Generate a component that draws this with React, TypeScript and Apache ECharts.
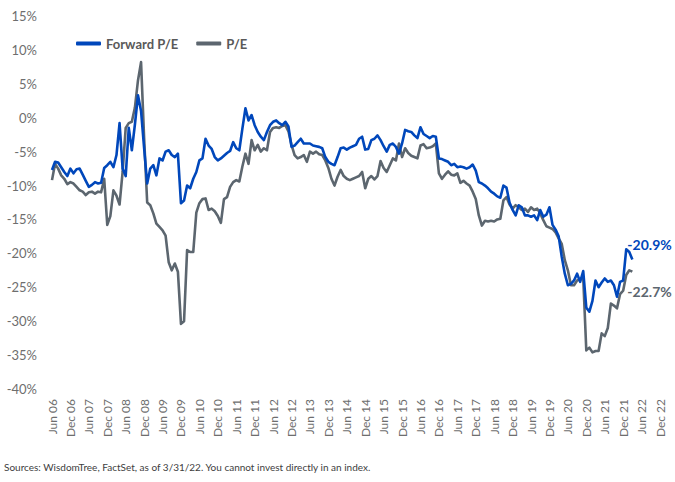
import React, { useEffect, useRef } from "react";
import * as echarts from "echarts";

// Monthly axis: Jun 06 through Dec 22
const monthNames = ["Jan", "Feb", "Mar", "Apr", "May", "Jun", "Jul", "Aug", "Sep", "Oct", "Nov", "Dec"];
const axisStart = { year: 2006, month: 5 };
const axisMonths = 199;
const categories: string[] = [];
for (let i = 0; i < axisMonths; i++) {
  const t = axisStart.month + i;
  const y = axisStart.year + Math.floor(t / 12);
  categories.push(`${monthNames[t % 12]} ${String(y % 100).padStart(2, "0")}`);
}

// Relative valuation, % (Jun 06 – Mar 22)
const forwardPE = [
  -7.7, -6.5, -6.6, -7.3, -8.0, -8.6, -7.5, -8.2, -7.6, -7.5, -8.4, -9.3,
  -10.2, -9.9, -9.5, -9.7, -9.6, -7.4, -7.0, -6.5, -7.3, -5.5, -0.8, -7.5,
  -8.6, -1.5, -4.8, -1.0, 3.3, 1.0, -4.5, -9.7, -7.5, -7.0, -8.5, -6.0,
  -6.3, -5.0, -4.8, -5.5, -5.8, -5.3, -12.6, -12.2, -10.0, -10.4, -9.0, -8.0,
  -6.3, -6.0, -3.1, -4.1, -4.6, -5.8, -6.3, -6.0, -5.6, -5.2, -4.9, -3.6,
  -4.5, -4.8, -1.6, 1.4, -0.4, 0.4, -1.1, -2.1, -2.8, -3.3, -2.1, -1.1,
  -0.6, -0.4, -0.8, -1.1, -0.6, -1.3, -4.3, -4.1, -3.6, -3.1, -3.8, -3.8,
  -3.8, -4.1, -4.2, -4.3, -4.5, -5.8, -6.5, -6.8, -7.0, -5.8, -4.5, -4.4,
  -4.7, -4.4, -4.2, -4.0, -3.1, -2.8, -4.7, -4.6, -3.3, -3.1, -2.6, -3.3,
  -4.2, -5.0, -4.0, -3.8, -4.3, -5.3, -3.8, -1.8, -2.0, -2.1, -2.6, -3.0,
  -1.4, -2.4, -2.7, -3.0, -2.7, -2.8, -6.0, -6.1, -6.3, -6.5, -7.0, -6.8,
  -7.3, -7.2, -7.3, -7.5, -7.3, -6.9, -7.8, -9.5, -9.7, -10.0, -10.4, -10.9,
  -11.2, -11.6, -11.8, -10.0, -10.3, -12.5, -13.6, -14.4, -12.9, -13.2, -14.4, -14.4,
  -14.6, -14.4, -15.1, -13.6, -14.6, -14.3, -13.2, -15.8, -16.5, -17.5, -20.5, -23.0,
  -24.7, -24.5, -24.0, -23.0, -24.2, -22.6, -28.0, -28.6, -27.0, -24.0, -25.0, -24.3,
  -23.7, -24.2, -24.0, -24.7, -26.4, -24.2, -24.0, -19.4, -19.8, -20.9,
];

const trailingPE = [
  -9.2, -6.8, -7.5, -8.5, -9.0, -9.8, -9.5, -9.7, -10.2, -10.7, -10.9, -11.4,
  -11.0, -10.9, -11.2, -10.9, -11.0, -9.0, -15.8, -14.5, -10.7, -11.5, -12.8, -8.0,
  -1.5, -0.8, -0.6, 1.5, 5.5, 8.2, -3.0, -12.5, -12.9, -14.1, -15.6, -16.1,
  -16.6, -17.4, -21.3, -22.5, -21.5, -22.7, -30.4, -30.0, -19.5, -19.8, -19.8, -14.0,
  -12.6, -12.0, -11.9, -13.6, -13.4, -13.8, -14.5, -15.5, -12.0, -11.7, -10.2, -9.5,
  -9.2, -9.4, -7.2, -5.3, -6.8, -3.3, -4.8, -4.0, -5.0, -4.5, -4.8, -2.1,
  -1.5, -1.4, -1.5, -1.2, -1.1, -2.0, -4.0, -5.5, -6.0, -5.8, -5.5, -6.5,
  -5.0, -5.3, -5.0, -5.4, -5.5, -6.3, -7.4, -9.0, -10.0, -8.7, -7.7, -8.6,
  -9.0, -9.2, -9.0, -8.8, -8.6, -8.0, -10.4, -9.0, -8.6, -9.1, -8.6, -6.4,
  -7.4, -8.0, -7.0, -6.0, -6.3, -3.8, -5.8, -4.5, -5.2, -5.6, -5.8, -6.0,
  -4.1, -3.9, -4.5, -4.4, -4.2, -3.8, -8.2, -9.0, -8.4, -7.9, -8.4, -8.5,
  -8.2, -9.6, -9.3, -9.7, -10.0, -10.9, -12.0, -14.4, -15.9, -15.2, -15.3, -15.2,
  -15.3, -15.0, -14.9, -12.2, -11.7, -12.8, -13.4, -12.9, -13.2, -13.6, -13.4, -13.9,
  -13.2, -13.6, -13.4, -14.1, -15.1, -16.0, -16.2, -16.4, -16.9, -17.8, -18.6, -21.0,
  -22.5, -24.7, -24.7, -24.0, -23.8, -23.6, -34.3, -33.9, -34.6, -34.4, -34.4, -31.8,
  -32.2, -31.0, -27.4, -27.7, -28.1, -26.0, -25.5, -23.2, -22.5, -22.7,
];

const BLUE = "#0047BB";
const GRAY = "#5C666F";
const LEGEND_TEXT = "#595959";
const AXIS_TEXT = "#6E6E6E";
const FONT = "Lato, 'Open Sans', sans-serif";

const pct = (p: any) => `${Number(p.value).toFixed(1)}%`;

export default function App() {
  const ref = useRef<HTMLDivElement>(null);

  useEffect(() => {
    if (!ref.current) return;
    const chart = echarts.init(ref.current, undefined, { renderer: "svg" });
    chart.setOption({
      animation: false,
      backgroundColor: "#ffffff",
      textStyle: { fontFamily: FONT },
      title: {
        text: "Sources: WisdomTree, FactSet, as of 3/31/22. You cannot invest directly in an index.",
        left: 4,
        top: 462,
        padding: 0,
        textStyle: {
          fontSize: 10,
          fontWeight: "normal",
          color: "#404040",
          fontFamily: FONT,
        },
      },
      legend: {
        left: 76,
        top: 37,
        padding: 0,
        itemWidth: 25,
        itemHeight: 4,
        itemGap: 18,
        icon: "roundRect",
        textStyle: { fontSize: 13, fontWeight: "bold", color: LEGEND_TEXT, fontFamily: FONT },
        data: ["Forward P/E", "P/E"],
      },
      grid: { left: 52, right: 15, top: 16, bottom: 93, containLabel: false },
      xAxis: {
        type: "category",
        data: categories,
        boundaryGap: false,
        axisLine: { show: false },
        axisTick: { show: false },
        splitLine: { show: false },
        axisLabel: {
          interval: 5,
          rotate: 90,
          margin: 10,
          fontSize: 12,
          color: AXIS_TEXT,
          fontFamily: FONT,
        },
      },
      yAxis: {
        type: "value",
        min: -40,
        max: 15,
        interval: 5,
        axisLine: { show: false },
        axisTick: { show: false },
        splitLine: { show: false },
        axisLabel: {
          formatter: "{value}%",
          margin: 15,
          fontSize: 13,
          color: AXIS_TEXT,
          fontFamily: FONT,
        },
      },
      series: [
        {
          name: "Forward P/E",
          type: "line",
          data: forwardPE,
          showSymbol: false,
          color: BLUE,
          lineStyle: { width: 2.6, color: BLUE, join: "round" },
          endLabel: {
            show: true,
            formatter: pct,
            offset: [-13, -15],
            color: BLUE,
            fontSize: 14,
            fontWeight: "bold",
            fontFamily: FONT,
          },
          z: 3,
        },
        {
          name: "P/E",
          type: "line",
          data: trailingPE,
          showSymbol: false,
          color: GRAY,
          lineStyle: { width: 2.6, color: GRAY, join: "round" },
          endLabel: {
            show: true,
            formatter: pct,
            offset: [-13, 20],
            color: GRAY,
            fontSize: 14,
            fontWeight: "bold",
            fontFamily: FONT,
          },
          z: 2,
        },
      ],
    });
    return () => chart.dispose();
  }, []);

  return (
    <div
      ref={ref}
      style={{ position: "fixed", left: 0, top: 0, width: 675, height: 482, background: "#fff" }}
    />
  );
}
